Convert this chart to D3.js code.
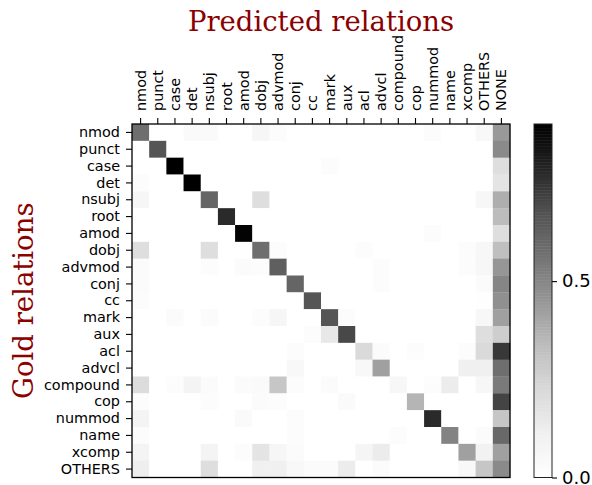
<!DOCTYPE html>
<html>
<head>
<meta charset="utf-8">
<script src="https://cdn.jsdelivr.net/npm/d3@7/dist/d3.min.js"></script>
<style>
  html, body { margin: 0; padding: 0; background: #ffffff; }
  svg { display: block; }
</style>
</head>
<body>
<div id="chart"></div>
<script>
// ---------- DATA ----------
const predLabels = ["nmod","punct","case","det","nsubj","root","amod","dobj","advmod","conj","cc","mark","aux","acl","advcl","compound","cop","nummod","name","xcomp","OTHERS","NONE"];
const goldLabels = ["nmod","punct","case","det","nsubj","root","amod","dobj","advmod","conj","cc","mark","aux","acl","advcl","compound","cop","nummod","name","xcomp","OTHERS"];
const colorbarTicks = [0.0, 0.5];
const vmax = 0.9;

// one row per gold relation; columns follow predLabels
//                 nmod punct case det nsubj root amod dobj advmod conj cc  mark aux  acl advcl comp cop  numm name xcomp OTH  NONE
const row_nmod     = [0.58,0,   0,   0.04,0.04,0,  0,   0.07,0.02,0,   0,   0,   0,   0,   0,   0,   0,   0.02,0,   0,   0.05,0.44];
const row_punct    = [0,   0.665,0,  0,   0,   0,  0,   0,   0,   0,   0,   0,   0,   0,   0,   0,   0,   0,   0,   0,   0,   0.49];
const row_case     = [0,   0,   0.9, 0,   0,   0,  0,   0,   0,   0,   0,   0.02,0,   0,   0,   0,   0,   0,   0,   0,   0,   0.2];
const row_det      = [0.02,0,   0,   0.9, 0,   0,  0,   0,   0,   0,   0,   0,   0,   0,   0,   0,   0,   0,   0,   0,   0,   0.17];
const row_nsubj    = [0.07,0,   0,   0,   0.61,0,  0,   0.2, 0,   0,   0,   0,   0,   0,   0,   0,   0,   0,   0,   0,   0.06,0.38];
const row_root     = [0,   0,   0,   0,   0,   0.775,0, 0,   0,   0,   0,   0,   0,   0,   0,   0,   0,   0,   0,   0,   0,   0.34];
const row_amod     = [0,   0,   0,   0,   0,   0,  0.89,0,   0,   0,   0,   0,   0,   0,   0,   0,   0,   0.02,0,   0,   0,   0.2];
const row_dobj     = [0.2, 0,   0,   0,   0.2, 0,  0,   0.58,0.02,0,   0,   0,   0,   0.02,0,   0,   0,   0,   0,   0.02,0.06,0.33];
const row_advmod   = [0.03,0,   0,   0,   0.02,0,  0.03,0.02,0.63,0,   0,   0,   0,   0,   0.02,0,   0,   0,   0,   0.02,0.06,0.45];
const row_conj     = [0.03,0,   0,   0,   0,   0,  0,   0,   0,   0.61,0,   0,   0,   0,   0.02,0,   0,   0,   0,   0,   0.03,0.5];
const row_cc       = [0.02,0,   0,   0,   0,   0,  0,   0,   0,   0,   0.665,0,  0,   0,   0,   0,   0,   0,   0,   0,   0.01,0.47];
const row_mark     = [0,   0,   0.03,0,   0.03,0,  0,   0.02,0.07,0,   0,   0.665,0.02,0,  0,   0,   0,   0,   0,   0,   0.06,0.42];
const row_aux      = [0,   0,   0,   0,   0,   0,  0,   0,   0,   0,   0.02,0.15,0.7, 0,   0,   0,   0,   0,   0,   0,   0.2, 0.27];
const row_acl      = [0,   0,   0,   0,   0,   0,  0,   0,   0,   0.02,0,   0,   0,   0.22,0.03,0,   0.02,0,   0,   0.02,0.22,0.74];
const row_advcl    = [0,   0,   0,   0,   0,   0,  0,   0,   0,   0.05,0,   0,   0,   0.05,0.42,0,   0,   0,   0,   0.11,0.11,0.58];
const row_compound = [0.21,0,   0.02,0.08,0.03,0,  0.03,0.04,0.3, 0.02,0,   0.03,0,   0,   0,   0.06,0,   0.02,0.13,0,   0.06,0.54];
const row_cop      = [0.02,0,   0,   0,   0.02,0,  0,   0.03,0.02,0,   0,   0,   0.04,0,   0,   0,   0.36,0,   0,   0,   0,   0.71];
const row_nummod   = [0.08,0,   0,   0,   0,   0,  0.04,0,   0,   0.02,0,   0,   0,   0,   0,   0,   0,   0.775,0,  0,   0,   0.3];
const row_name     = [0.02,0,   0,   0,   0,   0,  0,   0,   0,   0.02,0,   0,   0,   0,   0,   0.02,0,   0,   0.51,0,   0.03,0.6];
const row_xcomp    = [0.08,0,   0,   0,   0.08,0,  0.02,0.17,0.07,0.03,0,   0,   0,   0.075,0.13,0,  0,   0,   0,   0.42,0.1, 0.42];
const row_OTHERS   = [0.12,0,   0,   0,   0.2, 0,  0,   0.11,0.11,0.05,0.03,0.03,0.13,0,   0.03,0,   0,   0,   0,   0.05,0.3, 0.49];

const matrix = [row_nmod,row_punct,row_case,row_det,row_nsubj,row_root,row_amod,row_dobj,row_advmod,row_conj,row_cc,row_mark,row_aux,row_acl,row_advcl,row_compound,row_cop,row_nummod,row_name,row_xcomp,row_OTHERS];

// ---------- LAYOUT ----------
const W = 592, H = 485;
const plot = { left: 132, right: 510, top: 124, bottom: 477.5 };
const cbar = { left: 534, right: 552, top: 124, bottom: 477.5 };
const tickFont = "'DejaVu Sans', sans-serif";
const serif = "'DejaVu Serif', serif";
const titleColor = "#8b0000";

const greys = ["#ffffff","#f0f0f0","#d9d9d9","#bdbdbd","#969696","#737373","#525252","#252525","#000000"];
const color = d3.scaleLinear()
  .domain(greys.map((_, i) => i / (greys.length - 1) * vmax))
  .range(greys)
  .clamp(true);

const svg = d3.select("#chart").append("svg")
  .attr("width", W).attr("height", H)
  .attr("viewBox", `0 0 ${W} ${H}`);

const x = d3.scaleBand().domain(predLabels).range([plot.left, plot.right]).padding(0);
const y = d3.scaleBand().domain(goldLabels).range([plot.top, plot.bottom]).padding(0);

const cells = [];
matrix.forEach((row, r) => row.forEach((v, c) => cells.push({ gold: goldLabels[r], pred: predLabels[c], v })));

svg.append("g")
  .selectAll("rect")
  .data(cells)
  .join("rect")
  .attr("x", d => x(d.pred))
  .attr("y", d => y(d.gold))
  .attr("width", x.bandwidth() + 0.3)
  .attr("height", y.bandwidth() + 0.3)
  .attr("fill", d => color(d.v));

// frame
svg.append("rect")
  .attr("x", plot.left).attr("y", plot.top)
  .attr("width", plot.right - plot.left).attr("height", plot.bottom - plot.top)
  .attr("fill", "none").attr("stroke", "#000").attr("stroke-width", 1.3);

// top axis
const gTop = svg.append("g")
  .attr("transform", `translate(0,${plot.top})`)
  .call(d3.axisTop(x).tickSize(6).tickSizeOuter(0));
gTop.select(".domain").remove();
gTop.selectAll(".tick line").attr("stroke", "#000").attr("stroke-width", 1.1);
gTop.selectAll(".tick text")
  .attr("x", 0).attr("y", 0).attr("dy", "0.35em")
  .attr("transform", "translate(0,-13) rotate(-90)")
  .attr("text-anchor", "start")
  .attr("fill", "#000")
  .style("font-family", tickFont).style("font-size", "14.4px");

// left axis
const gLeft = svg.append("g")
  .attr("transform", `translate(${plot.left},0)`)
  .call(d3.axisLeft(y).tickSize(6).tickPadding(6).tickSizeOuter(0));
gLeft.select(".domain").remove();
gLeft.selectAll(".tick line").attr("stroke", "#000").attr("stroke-width", 1.1);
gLeft.selectAll(".tick text")
  .attr("fill", "#000")
  .style("font-family", tickFont).style("font-size", "14.4px");

// colorbar
const cbScale = d3.scaleLinear().domain([0, vmax]).range([cbar.bottom, cbar.top]);
const nSteps = 240;
const steps = d3.range(nSteps).map(i => (i / nSteps) * vmax);
svg.append("g")
  .selectAll("rect")
  .data(steps)
  .join("rect")
  .attr("x", cbar.left)
  .attr("width", cbar.right - cbar.left)
  .attr("y", d => cbScale(d + vmax / nSteps))
  .attr("height", d => cbScale(d) - cbScale(d + vmax / nSteps) + 0.5)
  .attr("fill", d => color(d + vmax / nSteps / 2));
svg.append("rect")
  .attr("x", cbar.left).attr("y", cbar.top)
  .attr("width", cbar.right - cbar.left).attr("height", cbar.bottom - cbar.top)
  .attr("fill", "none").attr("stroke", "#222").attr("stroke-width", 1);

const gCb = svg.append("g")
  .attr("transform", `translate(${cbar.right},0)`)
  .call(d3.axisRight(cbScale).tickValues(colorbarTicks).tickFormat(d3.format(".1f")).tickSize(5).tickPadding(5));
gCb.select(".domain").remove();
gCb.selectAll(".tick line").attr("stroke", "#000").attr("stroke-width", 1.1);
gCb.selectAll(".tick text")
  .attr("fill", "#000")
  .style("font-family", tickFont).style("font-size", "18px");

// titles
svg.append("text")
  .attr("x", (plot.left + plot.right) / 2).attr("y", 31)
  .attr("text-anchor", "middle")
  .attr("fill", titleColor)
  .style("font-family", serif).style("font-size", "27.5px")
  .text("Predicted relations");

svg.append("text")
  .attr("transform", `translate(33,${(plot.top + plot.bottom) / 2}) rotate(-90)`)
  .attr("text-anchor", "middle")
  .attr("fill", titleColor)
  .style("font-family", serif).style("font-size", "27.5px")
  .text("Gold relations");
</script>
</body>
</html>
